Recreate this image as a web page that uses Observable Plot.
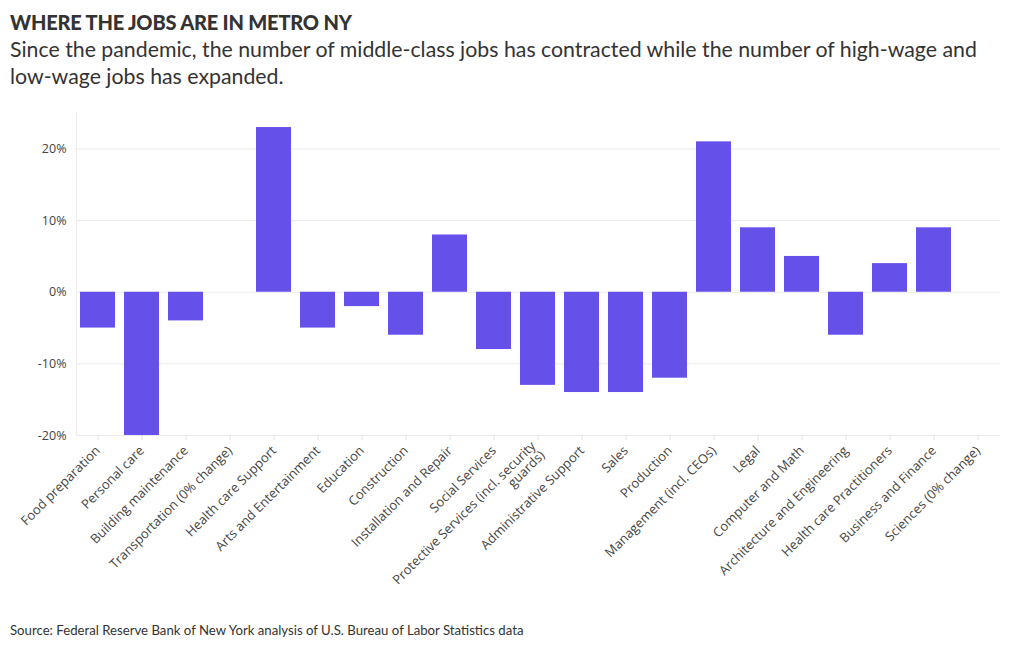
<!DOCTYPE html>
<html>
<head>
<meta charset="utf-8">
<script src="https://cdn.jsdelivr.net/npm/d3@7"></script>
<script src="https://cdn.jsdelivr.net/npm/@observablehq/plot@0.6"></script>
<style>
  html, body { margin: 0; padding: 0; background: #fff; width: 1020px; height: 650px; overflow: hidden; position: relative; }
  #title { position: absolute; left: 10px; top: 10px; font-family: Lato, "Open Sans", sans-serif; font-weight: 900; font-size: 20px; color: #333; letter-spacing: -0.2px; }
  #subtitle { position: absolute; left: 10px; top: 36px; width: 1010px; font-family: Lato, "Open Sans", sans-serif; font-size: 21.3px; line-height: 27px; color: #333; white-space: nowrap; }
  #chart { position: absolute; left: 0; top: 100px; }
  #caption { position: absolute; left: 10px; top: 622px; font-family: Lato, "Open Sans", sans-serif; font-size: 13.2px; color: #333; }
</style>
</head>
<body>
<div id="title">WHERE THE JOBS ARE IN METRO NY</div>
<div id="subtitle">Since the pandemic, the number of middle-class jobs has contracted while the number of high-wage and<br>low-wage jobs has expanded.</div>
<div id="chart"></div>
<div id="caption">Source: Federal Reserve Bank of New York analysis of U.S. Bureau of Labor Statistics data</div>
<script>
const categories = [
  "Food preparation", "Personal care", "Building maintenance", "Transportation (0% change)",
  "Health care Support", "Arts and Entertainment", "Education", "Construction",
  "Installation and Repair", "Social Services", "Protective Services (incl. security\nguards)",
  "Administrative Support", "Sales", "Production", "Management (incl. CEOs)", "Legal",
  "Computer and Math", "Architecture and Engineering", "Health care Practitioners",
  "Business and Finance", "Sciences (0% change)"
];
const changes = [-5, -20, -4, 0, 23, -5, -2, -6, 8, -8, -13, -14, -14, -12, 21, 9, 5, -6, 4, 9, 0];
const yTicks = [-20, -10, 0, 10, 20];

const data = categories.map((c, i) => ({category: c, change: changes[i]}));

const chart = Plot.plot({
  width: 1020,
  height: 510,
  marginLeft: 76,
  marginRight: 20,
  marginTop: 12,
  marginBottom: 175,
  style: {fontFamily: "'Open Sans', sans-serif", fontSize: "13px", color: "#444", background: "white"},
  x: {domain: categories, paddingInner: 0.2, paddingOuter: 0.1, label: null},
  y: {domain: [-20, 25.1], label: null},
  marks: [
    Plot.gridY(yTicks, {stroke: "#ebebeb", strokeOpacity: 1}),
    Plot.frame({anchor: "left", stroke: "#ebebeb", strokeOpacity: 1}),
    Plot.barY(data, {x: "category", y: "change", fill: "#6551ea"}),
    Plot.axisY(yTicks, {tickSize: 0, tickPadding: 10, tickFormat: d => d + "%", fill: "#444", fontSize: 12.5}),
    Plot.axisX({tickRotate: -45, tickSize: 5, tickPadding: 8, stroke: "#e0e0e0", fill: "#444", fontSize: 13, label: null})
  ]
});
document.getElementById("chart").appendChild(chart);
</script>
</body>
</html>
